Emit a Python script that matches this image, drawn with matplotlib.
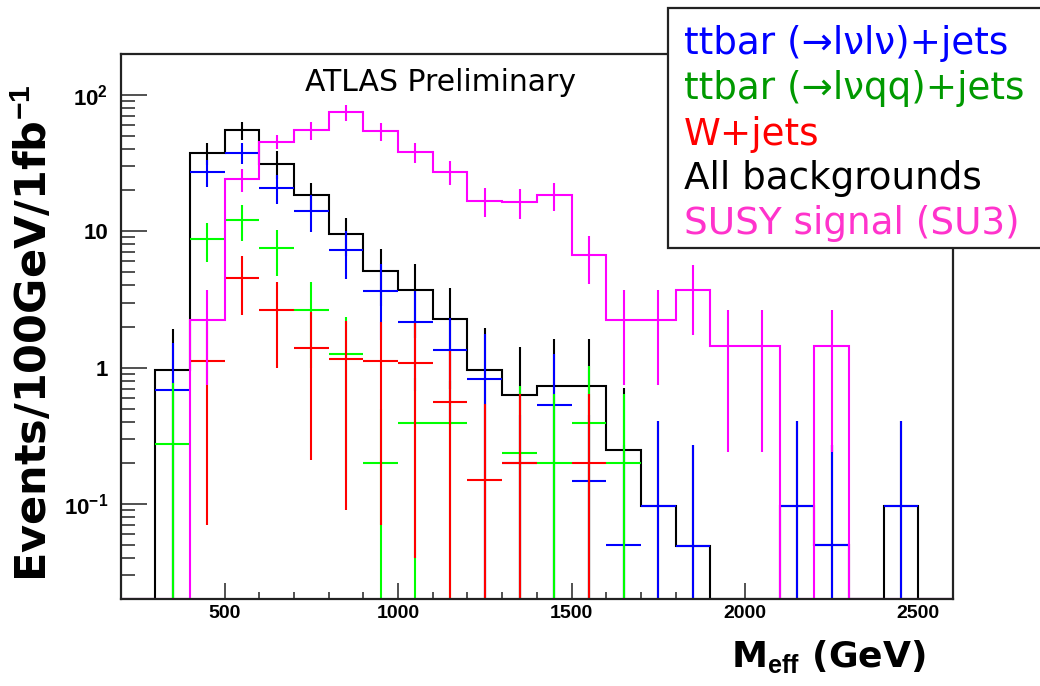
import matplotlib
matplotlib.use("Agg")
import matplotlib.pyplot as plt
import numpy as np
from matplotlib.patches import Rectangle
from matplotlib.ticker import FixedLocator, FixedFormatter, MultipleLocator, NullFormatter

# ---------------- data ----------------
bin_edges = np.arange(200, 2601, 100)
bin_centers = bin_edges[:-1] + 50

all_bkg = np.array([0, 0.96, 37.6, 55, 31.4, 18.4, 9.6, 5.1, 3.69, 2.26, 0.96, 0.63,
                    0.73, 0.73, 0.25, 0.096, 0.049, 0, 0, 0.096, 0.05, 0, 0.096, 0])
all_bkg_err = np.array([0, 0.95, 6.9, 8.0, 7.3, 4.3, 3.0, 2.27, 2.05, 1.56, 1.0, 0.79,
                        0.88, 0.88, 0.46, 0.31, 0.22, 0, 0, 0.31, 0.22, 0, 0.31, 0])

susy = np.array([0, 0, 2.22, 24.0, 45.3, 55.1, 74.7, 54.2, 38.0, 27.2, 16.8, 16.3,
                 18.4, 6.7, 2.22, 2.22, 3.69, 1.44, 1.44, 0, 1.44, 0, 0, 0])
susy_err = np.array([0, 0, 1.47, 4.6, 5.4, 8.0, 10.0, 8.0, 6.5, 5.5, 4.0, 4.0,
                     4.3, 2.6, 1.47, 1.47, 1.95, 1.2, 1.2, 0, 1.2, 0, 0, 0])

ttbar_ll = np.array([0, 0.687, 27.2, 37.6, 20.8, 14.1, 7.25, 3.65, 2.16, 1.34, 0.83, 0.198,
                     0.53, 0.146, 0.05, 0.096, 0.049, 0, 0, 0.096, 0.05, 0, 0.096, 0])
ttbar_ll_err = np.array([0, 0.82, 6.0, 6.5, 5.0, 4.3, 2.75, 2.07, 1.49, 0.96, 0.93, 0.25,
                         0.72, 0.3, 0.22, 0.31, 0.22, 0, 0, 0.31, 0.22, 0, 0.31, 0])

ttbar_lq = np.array([0, 0.273, 8.73, 12.1, 7.5, 2.63, 1.25, 0.198, 0.39, 0.39, 0, 0.236,
                     0.198, 0.39, 0.198, 0, 0, 0, 0, 0, 0, 0, 0, 0])
ttbar_lq_err = np.array([0, 0.5, 2.8, 3.6, 2.8, 1.64, 1.1, 0.3, 0.45, 0.4, 0, 0.5,
                         0.44, 0.64, 0.44, 0, 0, 0, 0, 0, 0, 0, 0, 0])

wjets = np.array([0, 0, 1.11, 4.52, 2.63, 1.38, 1.15, 1.11, 1.08, 0.554, 0.15, 0.198,
                  0, 0.198, 0, 0, 0, 0, 0, 0, 0, 0, 0, 0])
wjets_err = np.array([0, 0, 1.04, 2.1, 1.63, 1.17, 1.06, 1.04, 1.04, 0.77, 0.39, 0.44,
                      0, 0.44, 0, 0, 0, 0, 0, 0, 0, 0, 0, 0])

legend_labels = ["ttbar (\u2192l\u03bdl\u03bd)+jets", "ttbar (\u2192l\u03bdqq)+jets",
                 "W+jets", "All backgrounds", "SUSY signal (SU3)"]
x_ticks = [500, 1000, 1500, 2000, 2500]
y_ticks = [0.1, 1, 10, 100]
y_tick_labels = [r"$\mathbf{10^{-1}}$", "1", "10", r"$\mathbf{10^{2}}$"]

# ---------------- style ----------------
plt.rcParams["mathtext.fontset"] = "custom"
plt.rcParams["mathtext.rm"] = "Liberation Sans"
plt.rcParams["mathtext.bf"] = "Liberation Sans:bold"
plt.rcParams["mathtext.it"] = "Liberation Sans:italic"

YMIN, YMAX = 0.02, 200
XMIN, XMAX = 200, 2600
LW = 1.5

fig = plt.figure(figsize=(10.4, 6.86), dpi=100)
ax = fig.add_axes([120.7 / 1040, 1 - 599 / 686, (953 - 120.7) / 1040, (599 - 54) / 686])
ax.set_yscale("log")
ax.set_xlim(XMIN, XMAX)
ax.set_ylim(YMIN, YMAX)


def draw_hist(vals, errs, color, z):
    v = np.where(vals > 0, vals, YMIN)
    ax.stairs(v, bin_edges, color=color, lw=LW, baseline=None, zorder=z)
    m = vals > 0
    c, vv, e = bin_centers[m], vals[m], errs[m]
    lo = vv - np.maximum(vv - e, 1e-4)
    ax.errorbar(c, vv, yerr=[lo, e], fmt="none", ecolor=color, elinewidth=LW,
                capsize=0, zorder=z)


def draw_cross(vals, errs, color, z):
    m = vals > 0
    c, vv, e = bin_centers[m], vals[m], errs[m]
    lo = vv - np.maximum(vv - e, 1e-4)
    ax.errorbar(c, vv, yerr=[lo, e], xerr=50, fmt="none", ecolor=color,
                elinewidth=LW, capsize=0, zorder=z)


draw_hist(all_bkg, all_bkg_err, "black", 2)
draw_cross(ttbar_ll, ttbar_ll_err, "#0000ff", 3)
draw_cross(ttbar_lq, ttbar_lq_err, "#00ff00", 4)
draw_cross(wjets, wjets_err, "#ff0000", 5)
draw_hist(susy, susy_err, "#ff00ff", 6)

# axes / ticks
for s in ax.spines.values():
    s.set_linewidth(1.6)
    s.set_color("#222222")
    s.set_zorder(10)

ax.xaxis.set_major_locator(FixedLocator(x_ticks))
ax.xaxis.set_major_formatter(FixedFormatter([str(t) for t in x_ticks]))
ax.xaxis.set_minor_locator(MultipleLocator(100))
ax.yaxis.set_major_locator(FixedLocator(y_ticks))
ax.yaxis.set_major_formatter(FixedFormatter(y_tick_labels))
minor_y = [k * 10.0 ** p for p in range(-2, 3) for k in range(2, 10)]
ax.yaxis.set_minor_locator(FixedLocator(minor_y))
ax.yaxis.set_minor_formatter(NullFormatter())

ax.tick_params(axis="both", which="both", direction="in", top=False, right=False, width=1.1,
               color="#222222")
ax.tick_params(axis="y", which="major", length=18.5, pad=9)
ax.tick_params(axis="y", which="minor", length=10)
ax.tick_params(axis="x", which="major", length=11.3, pad=4)
ax.tick_params(axis="x", which="minor", length=5.3)
for lab in ax.get_xticklabels():
    lab.set_fontfamily("Liberation Sans")
    lab.set_fontweight("bold")
    lab.set_fontsize(14)
for lab in ax.get_yticklabels():
    lab.set_fontfamily("Liberation Sans")
    lab.set_fontweight("bold")
    lab.set_fontsize(16)

ax.text((305 - 120.7) / 832.3, (599 - 91) / 545, "ATLAS Preliminary", transform=ax.transAxes,
        fontsize=21.5, family="DejaVu Sans", color="black", va="baseline", ha="left")

# axis labels
fig.text(34 / 1040, 1 - 333 / 686, r"Events/100GeV/1fb$^{\mathbf{-1}}$", rotation=90,
         ha="center", va="center", fontsize=31, fontweight="bold", family="DejaVu Sans")
fig.text(926 / 1040, 1 - 667 / 686, r"M$_{\mathbf{eff}}$ (GeV)", ha="right", va="baseline",
         fontsize=26, fontweight="bold", family="DejaVu Sans")

# legend box
rect = Rectangle((668 / 1040, 1 - 248 / 686), (1060 - 668) / 1040, (248 - 8) / 686,
                 transform=fig.transFigure, facecolor="white", edgecolor="#222222",
                 lw=1.6, clip_on=False, zorder=20)
fig.add_artist(rect)
legend_colors = ["#0000ff", "#009900", "#ff0000", "#000000", "#ff33cc"]
baselines = [54, 99, 145, 189, 234]
for lab, col, yb in zip(legend_labels, legend_colors, baselines):
    fig.text(684 / 1040, 1 - yb / 686, lab, color=col, fontsize=26.8,
             family="DejaVu Sans", va="baseline", ha="left", zorder=21)

fig.savefig("out.png", dpi=100)
